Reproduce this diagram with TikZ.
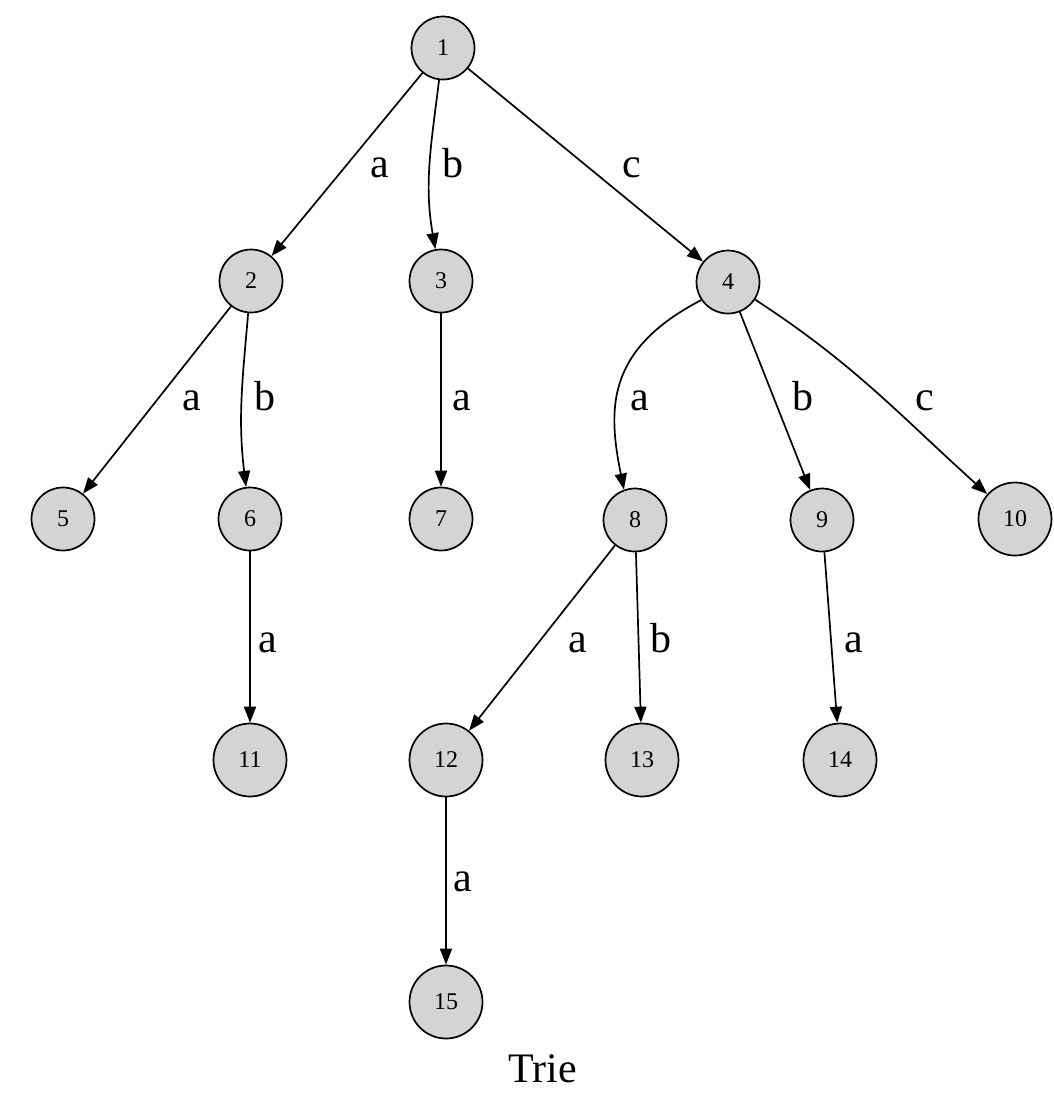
\documentclass[tikz,border=0pt]{standalone}
\usepackage{fontspec}
\setmainfont{Liberation Serif}
\usetikzlibrary{arrows.meta}

\begin{document}
\begin{tikzpicture}[x=1pt,y=1pt,
  state/.style={circle, draw=black, fill=black!17, line width=1.7pt, inner sep=0pt, minimum size=63pt, font=\fontsize{24}{28}\selectfont},
  wide/.style={state, minimum size=73pt},
  edge/.style={-{Triangle[length=16pt,width=12pt]}, line width=1.7pt, black},
  lbl/.style={anchor=base, inner sep=0pt, font=\fontsize{42}{50}\selectfont}]
\useasboundingbox (0,0) rectangle (1054,-1093);
% trie nodes
\node[state] (n1) at (443,-48) {1};
\node[state] (n2) at (251,-281) {2};
\node[state] (n3) at (441,-281) {3};
\node[state] (n4) at (728,-282) {4};
\node[state] (n5) at (63,-519) {5};
\node[state] (n6) at (250,-519) {6};
\node[state] (n7) at (441,-519) {7};
\node[state] (n8) at (635,-520) {8};
\node[state] (n9) at (822,-520) {9};
\node[wide] (n10) at (1015,-519) {10};
\node[wide] (n11) at (250,-760) {11};
\node[wide] (n12) at (446,-760) {12};
\node[wide] (n13) at (642,-760) {13};
\node[wide] (n14) at (840,-760) {14};
\node[wide] (n15) at (446,-1002) {15};
% edges
\draw[edge] (n1) -- (n2);
\draw[edge] (n1) to[out=-97,in=100] (n3);
\draw[edge] (n1) -- (n4);
\draw[edge] (n2) -- (n5);
\draw[edge] (n2) to[out=-95,in=97] (n6);
\draw[edge] (n3) -- (n7);
\draw[edge] (n4.214) .. controls (605,-350) and (608,-410) .. (n8.110);
\draw[edge] (n4) -- (n9);
\draw[edge] (n4) to[out=-33,in=138] (n10);
\draw[edge] (n6) -- (n11);
\draw[edge] (n8) -- (n12);
\draw[edge] (n8) -- (n13);
\draw[edge] (n9) -- (n14);
\draw[edge] (n12) -- (n15);
% edge labels
\node[lbl] (l12) at (380,-177) {a};
\node[lbl] (l13) at (453,-177) {b};
\node[lbl] (l14) at (632,-177) {c};
\node[lbl] (l25) at (192,-410) {a};
\node[lbl] (l26) at (265,-410) {b};
\node[lbl] (l37) at (462,-410) {a};
\node[lbl] (l48) at (640,-410) {a};
\node[lbl] (l49) at (803,-410) {b};
\node[lbl] (l410) at (925,-410) {c};
\node[lbl] (l611) at (268,-652) {a};
\node[lbl] (l812) at (578,-652) {a};
\node[lbl] (l813) at (661,-652) {b};
\node[lbl] (l914) at (854,-652) {a};
\node[lbl] (l1215) at (463,-891) {a};
% caption
\node[lbl] (title) at (543,-1082) {Trie};
\end{tikzpicture}
\end{document}
